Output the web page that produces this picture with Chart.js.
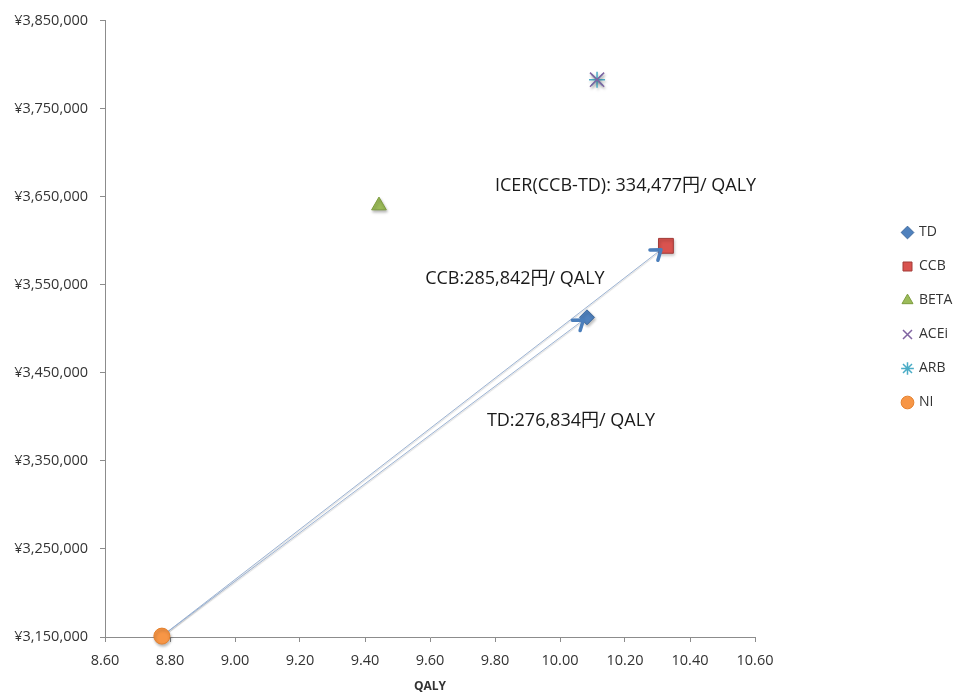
<!DOCTYPE html>
<html>
<head>
<meta charset="utf-8">
<script src="https://cdn.jsdelivr.net/npm/chart.js@4.4.1/dist/chart.umd.min.js"></script>
<style>
  html, body { margin: 0; padding: 0; background: #ffffff; }
  #wrap { width: 958px; height: 695px; }
</style>
</head>
<body>
<div id="wrap"><canvas id="c" width="958" height="695"></canvas></div>
<script>
// Treatment strategies and their outcomes
const categories = ['TD', 'CCB', 'BETA', 'ACEi', 'ARB', 'NI'];
const qaly = [10.083, 10.326, 9.443, 10.114, 10.114, 8.775];
const cost = [3513100, 3594300, 3640000, 3783000, 3783000, 3151000];

// Axis ticks
const xTicks = [8.60, 8.80, 9.00, 9.20, 9.40, 9.60, 9.80, 10.00, 10.20, 10.40, 10.60];
const yTicks = [3150000, 3250000, 3350000, 3450000, 3550000, 3650000, 3750000, 3850000];

// Incremental comparisons drawn as arrows: [from index, to index]
const arrows = [[5, 0], [5, 1]];

// Text notes placed in data coordinates
const notes = [
  { text: 'ICER(CCB-TD): 334,477円/ QALY', x: 9.80, y: 3662800 },
  { text: 'CCB:285,842円/ QALY', x: 9.585, y: 3557300 },
  { text: 'TD:276,834円/ QALY', x: 9.775, y: 3395050 }
];

const markerStyles = [
  { pointStyle: 'rectRot', radius: 7.5, bg: '#4f81bd', border: '#3b679c', bw: 1 },
  { pointStyle: 'rect', radius: 10.5, bg: '#d9534f', border: '#a33c39', bw: 1 },
  { pointStyle: 'triangle', radius: 8.5, bg: '#9bbb59', border: '#7d9c3e', bw: 1 },
  { pointStyle: 'crossRot', radius: 10, bg: '#8064a2', border: '#8064a2', bw: 1.5 },
  { pointStyle: 'star', radius: 8, bg: '#4bacc6', border: '#4bacc6', bw: 1.5 },
  { pointStyle: 'circle', radius: 8, bg: '#f79646', border: '#e5802c', bw: 1 }
];

const PLOT_LEFT = 105;
const PLOT_RIGHT = 755;
const PLOT_TOP = 20;
const PLOT_BOTTOM = 637;
const LEGEND_LEFT = 883;
const LEGEND_SHIFT = -40;

const datasets = categories.map((name, i) => ({
  label: name,
  data: [{ x: qaly[i], y: cost[i] }],
  pointStyle: markerStyles[i].pointStyle,
  pointRadius: markerStyles[i].radius,
  pointHoverRadius: markerStyles[i].radius,
  backgroundColor: markerStyles[i].bg,
  borderColor: markerStyles[i].border,
  pointBorderWidth: markerStyles[i].bw,
  borderWidth: markerStyles[i].bw,
  showLine: false,
  clip: false
}));

arrows.forEach(([a, b]) => {
  datasets.push({
    label: categories[a] + '→' + categories[b],
    isArrow: true,
    data: [{ x: qaly[a], y: cost[a] }, { x: qaly[b], y: cost[b] }],
    showLine: true,
    borderColor: 'rgba(150,174,208,0.95)',
    borderWidth: 1,
    pointRadius: 0,
    pointHoverRadius: 0,
    clip: false
  });
});

// Soft drop shadow under the markers and lines
const markerShadow = {
  id: 'markerShadow',
  beforeDatasetDraw(chart, args) {
    const ds = chart.data.datasets[args.index];
    const ctx = chart.ctx;
    ctx.save();
    if (ds.isArrow) {
      ctx.shadowColor = 'rgba(0,0,0,0.18)';
      ctx.shadowBlur = 1;
      ctx.shadowOffsetX = 0;
      ctx.shadowOffsetY = 1.5;
    } else {
      ctx.shadowColor = 'rgba(0,0,0,0.28)';
      ctx.shadowBlur = 3;
      ctx.shadowOffsetX = 1;
      ctx.shadowOffsetY = 2;
    }
  },
  afterDatasetDraw(chart) {
    chart.ctx.restore();
  }
};

// Arrowheads at the end of each comparison line
const arrowHeads = {
  id: 'arrowHeads',
  afterDatasetsDraw(chart) {
    const ctx = chart.ctx;
    const xs = chart.scales.x, ys = chart.scales.y;
    arrows.forEach(([a, b]) => {
      const x0 = xs.getPixelForValue(qaly[a]), y0 = ys.getPixelForValue(cost[a]);
      const x1 = xs.getPixelForValue(qaly[b]), y1 = ys.getPixelForValue(cost[b]);
      const ang = Math.atan2(y1 - y0, x1 - x0);
      const back = markerStyles[b].radius * 0.6;
      const tx = x1 - Math.cos(ang) * back, ty = y1 - Math.sin(ang) * back;
      const len = 11, spread = Math.PI / 5;
      ctx.save();
      ctx.strokeStyle = '#4a7ebb';
      ctx.lineWidth = 3.5;
      ctx.lineCap = 'round';
      ctx.lineJoin = 'round';
      ctx.beginPath();
      ctx.moveTo(tx - Math.cos(ang - spread) * len, ty - Math.sin(ang - spread) * len);
      ctx.lineTo(tx, ty);
      ctx.lineTo(tx - Math.cos(ang + spread) * len, ty - Math.sin(ang + spread) * len);
      ctx.stroke();
      ctx.restore();
    });
  }
};

// Text notes
const noteText = {
  id: 'noteText',
  afterDatasetsDraw(chart) {
    const ctx = chart.ctx;
    ctx.save();
    ctx.font = '18px "Open Sans", "Noto Sans CJK JP", sans-serif';
    ctx.fillStyle = '#1a1a1a';
    ctx.textAlign = 'left';
    ctx.textBaseline = 'middle';
    notes.forEach(n => {
      ctx.fillText(n.text, chart.scales.x.getPixelForValue(n.x), chart.scales.y.getPixelForValue(n.y));
    });
    ctx.restore();
  }
};

// Keep the legend in a narrow column at the far right
const legendPlacement = {
  id: 'legendPlacement',
  beforeLayout(chart) {
    const lg = chart.legend;
    if (lg && !lg._widened) {
      const fit = lg.fit;
      lg.fit = function () { fit.call(this); this.width = chart.width - PLOT_RIGHT; };
      lg._widened = true;
    }
  },
  afterLayout(chart) {
    const lg = chart.legend;
    if (!lg) return;
    lg.left = LEGEND_LEFT;
    lg.top += LEGEND_SHIFT;
    lg.bottom += LEGEND_SHIFT;
  }
};

Chart.defaults.font.family = '"Open Sans", "DejaVu Sans", sans-serif';
Chart.defaults.color = '#333333';

new Chart(document.getElementById('c'), {
  type: 'scatter',
  data: { datasets },
  options: {
    responsive: false,
    animation: false,
    devicePixelRatio: 1,
    layout: { padding: { top: PLOT_TOP, right: 0, bottom: 0, left: 0 } },
    plugins: {
      tooltip: { enabled: false },
      legend: {
        position: 'right',
        align: 'center',
        labels: {
          usePointStyle: true,
          boxWidth: 9,
          boxHeight: 9,
          padding: 20,
          color: '#333333',
          font: { size: 14 },
          filter: (item, data) => !data.datasets[item.datasetIndex].isArrow
        }
      }
    },
    scales: {
      x: {
        type: 'linear',
        min: 8.6,
        max: 10.6,
        afterBuildTicks: s => { s.ticks = xTicks.map(v => ({ value: v })); },
        afterFit: s => { s.height = 695 - PLOT_BOTTOM; },
        ticks: {
          padding: 10,
          font: { size: 14.5 },
          color: '#333333',
          callback: v => Number(v).toFixed(2)
        },
        grid: { display: true, drawOnChartArea: false, drawTicks: true, tickLength: 5, color: '#8c8c8c' },
        border: { display: true, color: '#8c8c8c', width: 1 },
        title: {
          display: true,
          text: 'QALY',
          color: '#333333',
          font: { size: 12, weight: 'bold' },
          padding: { top: 0, bottom: 1 }
        }
      },
      y: {
        type: 'linear',
        min: 3150000,
        max: 3850000,
        afterBuildTicks: s => { s.ticks = yTicks.map(v => ({ value: v })); },
        afterFit: s => { s.width = PLOT_LEFT; },
        ticks: {
          padding: 12,
          font: { size: 14.5 },
          color: '#333333',
          callback: v => '¥' + Number(v).toLocaleString('en-US')
        },
        grid: { display: true, drawOnChartArea: false, drawTicks: true, tickLength: 5, color: '#8c8c8c' },
        border: { display: true, color: '#8c8c8c', width: 1 }
      }
    }
  },
  plugins: [markerShadow, arrowHeads, noteText, legendPlacement]
});
</script>
</body>
</html>
